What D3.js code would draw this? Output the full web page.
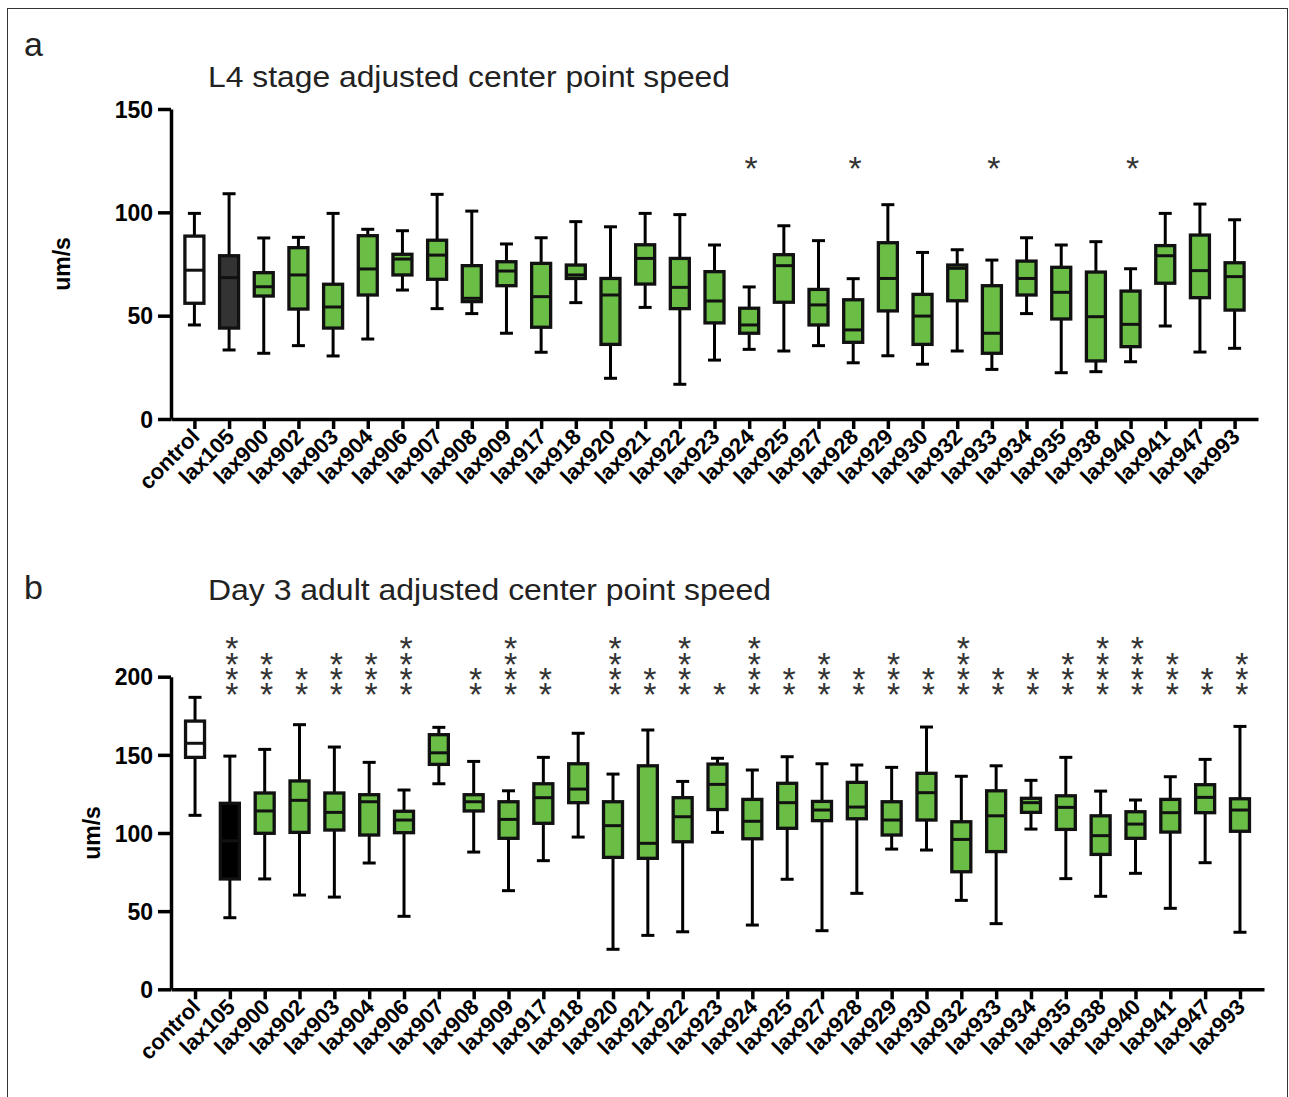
<!DOCTYPE html>
<html>
<head>
<meta charset="utf-8">
<script src="https://cdn.jsdelivr.net/npm/d3@7"></script>
<style>
  body { margin: 0; background: #fff; }
  svg { display: block; font-family: 'Liberation Sans', Arial, sans-serif; }
</style>
</head>
<body>
<svg id="chart"></svg>
<script>
const categories = ['control', 'lax105', 'lax900', 'lax902', 'lax903', 'lax904', 'lax906', 'lax907',
    'lax908', 'lax909', 'lax917', 'lax918', 'lax920', 'lax921', 'lax922', 'lax923', 'lax924', 'lax925',
    'lax927', 'lax928', 'lax929', 'lax930', 'lax932', 'lax933', 'lax934', 'lax935', 'lax938', 'lax940',
    'lax941', 'lax947', 'lax993'];

// a: L4 stage (um/s)
const l4Low = [45.5, 33.4, 31.8, 35.5, 30.5, 38.7, 62.4, 53.4, 51, 41.5, 32.3, 56.3, 19.7, 54, 16.8, 28.5,
    33.7, 32.9, 35.5, 27.2, 30.6, 26.5, 32.9, 24, 51, 22.4, 22.9, 27.7, 45, 32.4, 34.2];
const l4Q1 = [56, 44, 59.5, 53.2, 44, 60, 69.7, 67.6, 56.8, 64.5, 44.4, 68, 36.1, 65.3, 53.4, 46.5,
    41.5, 56.5, 45.5, 37.1, 52.3, 36.1, 57.2, 31.8, 60, 48.4, 28.1, 35, 65.7, 58.7, 52.7];
const l4Median = [72, 68.4, 64, 69.7, 54.2, 72.6, 77.4, 79.3, 58.4, 71.6, 59.2, 69.7, 60, 77.7, 63.7, 57.1,
    45.5, 74.2, 55.2, 43.1, 68, 49.8, 72.9, 41.5, 68, 61.3, 49.5, 45.8, 79, 71.8, 68.9];
const l4Q3 = [88.5, 79, 70.8, 82.9, 65.2, 88.7, 79.7, 86.5, 74.2, 76.1, 75.3, 74.5, 68, 84.3, 77.7, 71.3,
    53.6, 79.5, 62.7, 57.7, 85.3, 60.3, 74.5, 64.5, 76.4, 73.4, 71.1, 61.9, 83.9, 89, 75.6];
const l4High = [99.5, 109, 87.6, 87.9, 99.5, 91.8, 91.1, 108.7, 100.6, 84.7, 87.7, 95.5, 93, 99.5, 98.9, 84.2,
    63.9, 93.5, 86.3, 67.9, 103.7, 80.6, 81.9, 76.9, 87.7, 84.2, 85.8, 72.7, 99.5, 104, 96.4];
const l4Stars = [0, 0, 0, 0, 0, 0, 0, 0, 0, 0, 0, 0, 0, 0, 0, 0, 1, 0, 0, 1, 0, 0, 0, 1, 0, 0, 0, 1, 0, 0, 0];
const l4Ticks = [0, 50, 100, 150];

// b: Day 3 adult (um/s)
const adultLow = [111.3, 45.8, 70.6, 60.3, 59, 80.8, 46.7, 131.5, 87.8, 63.1, 82.3, 97.4, 25.6, 34.5, 36.8, 100.4,
    41.1, 70.4, 37.5, 61.4, 89.7, 89.1, 56.9, 42, 102.5, 70.8, 59.5, 74.2, 51.8, 81, 36.5];
const adultQ1 = [148.4, 70.6, 99.8, 100.4, 101.9, 98.7, 100.2, 143.9, 114.1, 96.6, 106.2, 119.4, 84.4, 83.8, 94.4, 115,
    96.3, 103, 107.9, 109.1, 98.7, 108.3, 75.2, 88.1, 113.2, 102.3, 86.3, 96.6, 100.6, 113, 101.1];
const adultMedian = [157.4, 95, 114.1, 120.9, 113.2, 120, 108.3, 151.3, 120, 108.7, 122.6, 128.1, 104.7, 93.4, 110.4, 131.1,
    107.5, 119.4, 114.7, 116.6, 108.3, 125.8, 95.9, 111, 119.4, 116.4, 98.3, 105.7, 113, 122.8, 114.7];
const adultQ3 = [171.6, 119, 125.6, 133.3, 125.6, 124.5, 113.9, 162.9, 124.5, 120, 131.5, 144.3, 120, 143, 122.6, 144.1,
    121.5, 131.8, 120.2, 132.4, 120, 138.2, 107.2, 127, 122.2, 123.8, 111, 113.6, 121.5, 130.9, 121.9];
const adultHigh = [186.8, 149.2, 153.5, 169.3, 155, 145.2, 127.5, 167.6, 145.8, 127, 148.4, 163.8, 137.7, 165.9, 133, 147.8,
    140.3, 148.8, 144.3, 143.5, 142, 167.8, 136.3, 143, 133.7, 148.4, 126.8, 121.1, 136, 147.1, 168.2];
const adultStars = [0, 4, 3, 2, 3, 3, 4, 0, 2, 4, 2, 0, 4, 2, 4, 1, 4, 2, 3, 2, 3, 2, 4, 2, 2, 3, 4, 4, 3, 2, 3];
const adultTicks = [0, 50, 100, 150, 200];

const makeRows = (low, q1, median, q3, high, stars) => categories.map((name, i) => ({
    name: name, low: low[i], q1: q1[i], median: median[i], q3: q3[i], high: high[i], stars: stars[i]
}));

class BoxPlot {

    constructor(_config, _data) {
        this.config = {
            parentElement: _config.parentElement,
            left: _config.left,
            top: _config.top,
            width: _config.width,
            height: _config.height,
            xPadding: _config.xPadding || 0.68,
            yMax: _config.yMax,
            yTicks: _config.yTicks,
            title: _config.title,
            titleY: _config.titleY,
            titleWidth: _config.titleWidth,
            letter: _config.letter,
            letterY: _config.letterY,
            labelX: _config.labelX,
            starTop: _config.starTop,
            starGap: _config.starGap || 15.3,
            darkFill: _config.darkFill,
            boxWidth: 19,
            capWidth: 13
        }
        this.data = _data;
        this.initVis();
    }

    initVis() {
        let vis = this;

        vis.x = d3.scalePoint()
            .domain(categories)
            .range([0, vis.config.width])
            .padding(vis.config.xPadding);

        vis.y = d3.scaleLinear()
            .domain([0, vis.config.yMax])
            .range([vis.config.height, 0]);

        vis.svg = d3.select(vis.config.parentElement);

        vis.chart = vis.svg.append('g')
            .attr('transform', `translate(${vis.config.left},${vis.config.top})`);

        vis.renderVis();
    }

    fillFor(d) {
        if (d.name === 'control') return '#ffffff';
        if (d.name === 'lax105') return this.config.darkFill;
        return '#6abd45';
    }

    renderVis() {
        let vis = this;
        const cfg = vis.config;

        // panel letter + title
        vis.svg.append('text')
            .attr('x', 24)
            .attr('y', cfg.letterY)
            .attr('font-size', 34)
            .attr('fill', '#222')
            .text(cfg.letter);

        vis.svg.append('text')
            .attr('x', 208)
            .attr('y', cfg.titleY)
            .attr('font-size', 30)
            .attr('fill', '#222')
            .attr('textLength', cfg.titleWidth)
            .attr('lengthAdjust', 'spacingAndGlyphs')
            .text(cfg.title);

        // whiskers (behind the boxes)
        vis.chart.selectAll('.whisker')
            .data(vis.data)
            .join('line')
            .attr('class', 'whisker')
            .attr('x1', d => vis.x(d.name))
            .attr('x2', d => vis.x(d.name))
            .attr('y1', d => vis.y(d.high))
            .attr('y2', d => vis.y(d.low))
            .attr('stroke', '#000')
            .attr('stroke-width', 3);

        const caps = vis.data.flatMap(d => [{ name: d.name, v: d.high }, { name: d.name, v: d.low }]);
        vis.chart.selectAll('.cap')
            .data(caps)
            .join('line')
            .attr('class', 'cap')
            .attr('x1', d => vis.x(d.name) - cfg.capWidth / 2)
            .attr('x2', d => vis.x(d.name) + cfg.capWidth / 2)
            .attr('y1', d => vis.y(d.v))
            .attr('y2', d => vis.y(d.v))
            .attr('stroke', '#000')
            .attr('stroke-width', 3);

        vis.chart.selectAll('.box')
            .data(vis.data)
            .join('rect')
            .attr('class', 'box')
            .attr('x', d => vis.x(d.name) - cfg.boxWidth / 2)
            .attr('y', d => vis.y(d.q3))
            .attr('width', cfg.boxWidth)
            .attr('height', d => vis.y(d.q1) - vis.y(d.q3))
            .attr('fill', d => vis.fillFor(d))
            .attr('stroke', '#111')
            .attr('stroke-width', 3.3);

        vis.chart.selectAll('.median')
            .data(vis.data)
            .join('line')
            .attr('class', 'median')
            .attr('x1', d => vis.x(d.name) - cfg.boxWidth / 2)
            .attr('x2', d => vis.x(d.name) + cfg.boxWidth / 2)
            .attr('y1', d => vis.y(d.median))
            .attr('y2', d => vis.y(d.median))
            .attr('stroke', '#111')
            .attr('stroke-width', 3);

        // significance stars: one text per column, stacked with tspans
        const starCols = vis.data.filter(d => d.stars > 0);
        vis.chart.selectAll('.stars')
            .data(starCols)
            .join('text')
            .attr('class', 'stars')
            .attr('text-anchor', 'middle')
            .attr('font-size', 34)
            .attr('fill', '#333')
            .selectAll('tspan')
            .data(d => d3.range(d.stars).map(k => ({ name: d.name, k: k, n: d.stars })))
            .join('tspan')
            .attr('x', d => vis.x(d.name) + 2)
            .attr('y', d => cfg.starTop - (d.n - 1 - d.k) * cfg.starGap + 16.3)
            .text('*');

        // axes
        const xAxisG = vis.chart.append('g')
            .attr('transform', `translate(0,${cfg.height})`)
            .call(d3.axisBottom(vis.x).tickSize(10).tickSizeOuter(0).tickPadding(0));

        const yAxisG = vis.chart.append('g')
            .call(d3.axisLeft(vis.y).tickValues(cfg.yTicks).tickFormat(d3.format('d'))
                .tickSize(13).tickSizeOuter(0).tickPadding(5));

        [xAxisG, yAxisG].forEach(g => {
            g.attr('font-family', null).attr('font-size', null);
            g.selectAll('path, line').attr('stroke', '#000').attr('stroke-width', 3.5);
            g.selectAll('text').attr('fill', '#000').attr('font-weight', 'bold');
        });

        yAxisG.selectAll('text').attr('font-size', 23).attr('dy', '0.36em');

        xAxisG.selectAll('text')
            .attr('font-size', 22)
            .attr('text-anchor', 'end')
            .attr('y', null)
            .attr('dy', null)
            .attr('transform', 'translate(6,19) rotate(-45)');

        // y label
        vis.svg.append('text')
            .attr('transform', `translate(${cfg.labelX},${cfg.top + cfg.height / 2}) rotate(-90)`)
            .attr('text-anchor', 'middle')
            .attr('dy', '0.35em')
            .attr('font-size', 23)
            .attr('font-weight', 'bold')
            .text('um/s');
    }
}

const svg = d3.select('#chart')
    .attr('width', 1289)
    .attr('height', 1097);

svg.append('rect')
    .attr('x', 7.5)
    .attr('y', 8.5)
    .attr('width', 1280)
    .attr('height', 1100)
    .attr('fill', 'none')
    .attr('stroke', '#333')
    .attr('stroke-width', 1);

new BoxPlot({
    parentElement: '#chart',
    left: 171, top: 109, width: 1087, height: 310,
    xPadding: 0.675,
    yMax: 150, yTicks: l4Ticks,
    title: 'L4 stage adjusted center point speed', titleY: 87, titleWidth: 522,
    letter: 'a', letterY: 56, labelX: 62,
    starTop: 55,
    darkFill: '#333333'
}, makeRows(l4Low, l4Q1, l4Median, l4Q3, l4High, l4Stars));

new BoxPlot({
    parentElement: '#chart',
    left: 171, top: 676.7, width: 1093, height: 312.6,
    xPadding: 0.69,
    yMax: 200, yTicks: adultTicks,
    title: 'Day 3 adult adjusted center point speed', titleY: 600, titleWidth: 563,
    letter: 'b', letterY: 599, labelX: 92,
    starTop: 13.3,
    darkFill: '#000000'
}, makeRows(adultLow, adultQ1, adultMedian, adultQ3, adultHigh, adultStars));
</script>
</body>
</html>
